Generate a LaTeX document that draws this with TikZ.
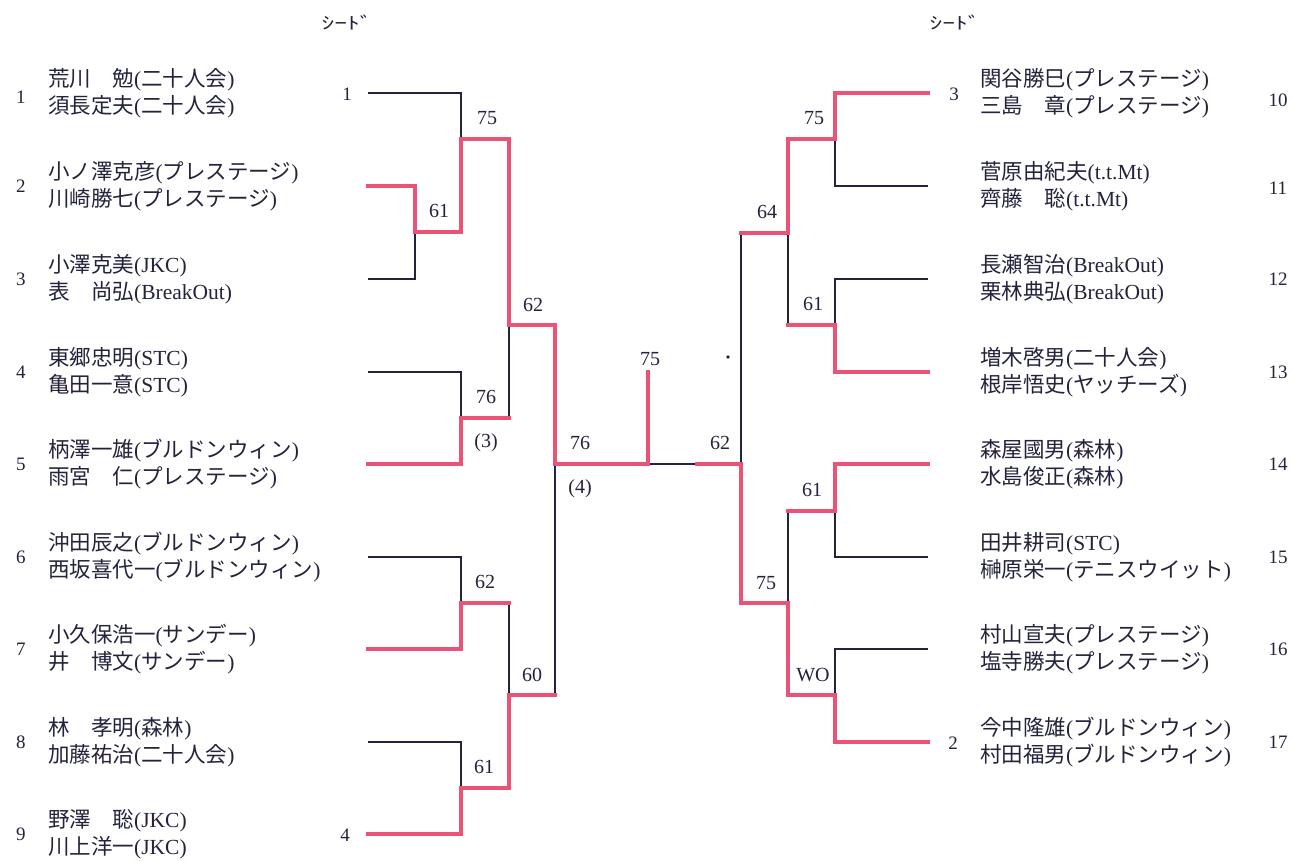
\documentclass[tikz,border=0pt]{standalone}
\usepackage{fontspec}
\setmainfont{Liberation Serif}
\newfontfamily\cjk{Noto Sans CJK JP}
\newcommand\J[1]{{\cjk #1}}
\definecolor{wred}{RGB}{234,82,118}
\definecolor{ink}{RGB}{35,35,60}
\begin{document}
\begin{tikzpicture}[x=1pt,y=-1pt,
  loser/.style={draw=ink, line width=1.4pt},
  winner/.style={draw=wred, line width=3.2pt, line cap=rect},
  namebox/.style={anchor=west, align=left, inner sep=0pt, text=ink, font=\fontsize{21.5}{27}\selectfont},
  score/.style={inner sep=0pt, text=ink, font=\fontsize{20}{20}\selectfont},
  num/.style={inner sep=0pt, text=ink, font=\fontsize{19}{19}\selectfont},
  seedhdr/.style={inner sep=0pt, text=ink}]
\useasboundingbox (0,0) rectangle (1295,861);
\fill[white] (0,0) rectangle (1295,861);
% leaves
\coordinate (l1) at (368,93);  \coordinate (l2) at (368,186);
\coordinate (l3) at (368,279); \coordinate (l4) at (368,372);
\coordinate (l5) at (368,464); \coordinate (l6) at (368,557);
\coordinate (l7) at (368,649); \coordinate (l8) at (368,742);
\coordinate (l9) at (368,834);
\coordinate (r10) at (928,93);  \coordinate (r11) at (928,186);
\coordinate (r12) at (928,279); \coordinate (r13) at (928,372);
\coordinate (r14) at (928,464); \coordinate (r15) at (928,557);
\coordinate (r16) at (928,649); \coordinate (r17) at (928,742);
% junctions
\coordinate (jA) at (415,232); \coordinate (jB) at (461,139);
\coordinate (jC) at (461,418); \coordinate (jD) at (509,325);
\coordinate (jE) at (461,603); \coordinate (jF) at (461,788);
\coordinate (jG) at (509,695); \coordinate (jH) at (555,464);
\coordinate (fin) at (648,464); \coordinate (top) at (648,372);
\coordinate (cm) at (697,464);
\coordinate (jP) at (835,139); \coordinate (jQ) at (835,325);
\coordinate (jS) at (788,233); \coordinate (jT) at (835,511);
\coordinate (jU) at (835,695); \coordinate (jV) at (788,603);
\coordinate (jW) at (741,464);
% losing lines
\draw[loser] (l1) -| (jB);
\draw[loser] (l3) -| (jA);
\draw[loser] (l4) -| (jC);
\draw[loser] (l6) -| (jE);
\draw[loser] (l8) -| (jF);
\draw[loser] (jC -| jD) -- (jD);
\draw[loser] (jE -| jG) -- (jG);
\draw[loser] (jG -| jH) -- (jH);
\draw[loser] (fin) -- (cm);
\draw[loser] (r11) -| (jP);
\draw[loser] (r12) -| (jQ);
\draw[loser] (r15) -| (jT);
\draw[loser] (r16) -| (jU);
\draw[loser] (jQ -| jS) -- (jS);
\draw[loser] (jS -| jW) -- (jW);
\draw[loser] (jT -| jV) -- (jV);
% winning lines
\draw[winner] (l2) -| (jA) -| (jB) -| (jD) -| (jH) -- (fin) -- (top);
\draw[winner] (l5) -| (jC) -- (jC -| jD);
\draw[winner] (l7) -| (jE) -- (jE -| jG);
\draw[winner] (l9) -| (jF) -| (jG) -- (jG -| jH);
\draw[winner] (r10) -| (jP) -| (jS) -- (jS -| jW);
\draw[winner] (r13) -| (jQ) -- (jQ -| jS);
\draw[winner] (r14) -| (jT) -- (jT -| jV);
\draw[winner] (r17) -| (jU) -| (jV) -| (jW) -- (cm);
% scores
\node[score] (sA) at (439,211) {61};
\node[score] (sB) at (487,118) {75};
\node[score] (sC) at (486,397) {76};
\node[score] (sC2) at (486,443) {(3)};
\node[score] (sD) at (533,305) {62};
\node[score] (sE) at (485,582) {62};
\node[score] (sF) at (484,767) {61};
\node[score] (sG) at (532,675) {60};
\node[score] (sH) at (580,443) {76};
\node[score] (sH2) at (580,489) {(4)};
\node[score] (sFin) at (650,359) {75};
\node[score] (sW) at (720,443) {62};
\node[score] (sP) at (814,118) {75};
\node[score] (sS) at (767,212) {64};
\node[score] (sQ) at (813,304) {61};
\node[score] (sT) at (812,490) {61};
\node[score] (sV) at (766,583) {75};
\node[score] (sU) at (813,675) {WO};
\fill[ink] (728,357) circle (1.8pt);
% seeds
\node[seedhdr] (hl) at (347,23) {\scalebox{1.5}[1]{\cjk\fontsize{17}{17}\selectfont ｼｰﾄﾞ}};
\node[seedhdr] (hr) at (955,23) {\scalebox{1.5}[1]{\cjk\fontsize{17}{17}\selectfont ｼｰﾄﾞ}};
\node[num] (s1) at (347,94) {1};
\node[num] (s4) at (345,835) {4};
\node[num] (s3) at (954,94) {3};
\node[num] (s2) at (953,743) {2};
% entry numbers
\foreach \k/\y in {1/97,2/186,3/279,4/372,5/464,6/557,7/649,8/742,9/834}
  \node[num] (e\k) at (21,\y) {\k};
\foreach \k/\y in {10/100,11/188,12/279,13/372,14/464,15/557,16/649,17/742}
  \node[num] (e\k) at (1278,\y) {\k};
% names left
\node[namebox] (n1) at (48,93) {\J{荒川　勉}(\J{二十人会})\\\J{須長定夫}(\J{二十人会})};
\node[namebox] (n2) at (48,186) {\J{小ノ澤克彦}(\J{プレステージ})\\\J{川崎勝七}(\J{プレステージ})};
\node[namebox] (n3) at (48,279) {\J{小澤克美}(JKC)\\\J{表　尚弘}(BreakOut)};
\node[namebox] (n4) at (48,372) {\J{東郷忠明}(STC)\\\J{亀田一意}(STC)};
\node[namebox] (n5) at (48,464) {\J{柄澤一雄}(\J{ブルドンウィン})\\\J{雨宮　仁}(\J{プレステージ})};
\node[namebox] (n6) at (48,557) {\J{沖田辰之}(\J{ブルドンウィン})\\\J{西坂喜代一}(\J{ブルドンウィン})};
\node[namebox] (n7) at (48,649) {\J{小久保浩一}(\J{サンデー})\\\J{井　博文}(\J{サンデー})};
\node[namebox] (n8) at (48,742) {\J{林　孝明}(\J{森林})\\\J{加藤祐治}(\J{二十人会})};
\node[namebox] (n9) at (48,834) {\J{野澤　聡}(JKC)\\\J{川上洋一}(JKC)};
% names right
\node[namebox] (n10) at (980,93) {\J{関谷勝巳}(\J{プレステージ})\\\J{三島　章}(\J{プレステージ})};
\node[namebox] (n11) at (980,186) {\J{菅原由紀夫}(t.t.Mt)\\\J{齊藤　聡}(t.t.Mt)};
\node[namebox] (n12) at (980,279) {\J{長瀬智治}(BreakOut)\\\J{栗林典弘}(BreakOut)};
\node[namebox] (n13) at (980,372) {\J{増木啓男}(\J{二十人会})\\\J{根岸悟史}(\J{ヤッチーズ})};
\node[namebox] (n14) at (980,464) {\J{森屋國男}(\J{森林})\\\J{水島俊正}(\J{森林})};
\node[namebox] (n15) at (980,557) {\J{田井耕司}(STC)\\\J{榊原栄一}(\J{テニスウイット})};
\node[namebox] (n16) at (980,649) {\J{村山宣夫}(\J{プレステージ})\\\J{塩寺勝夫}(\J{プレステージ})};
\node[namebox] (n17) at (980,742) {\J{今中隆雄}(\J{ブルドンウィン})\\\J{村田福男}(\J{ブルドンウィン})};
\end{tikzpicture}
\end{document}
